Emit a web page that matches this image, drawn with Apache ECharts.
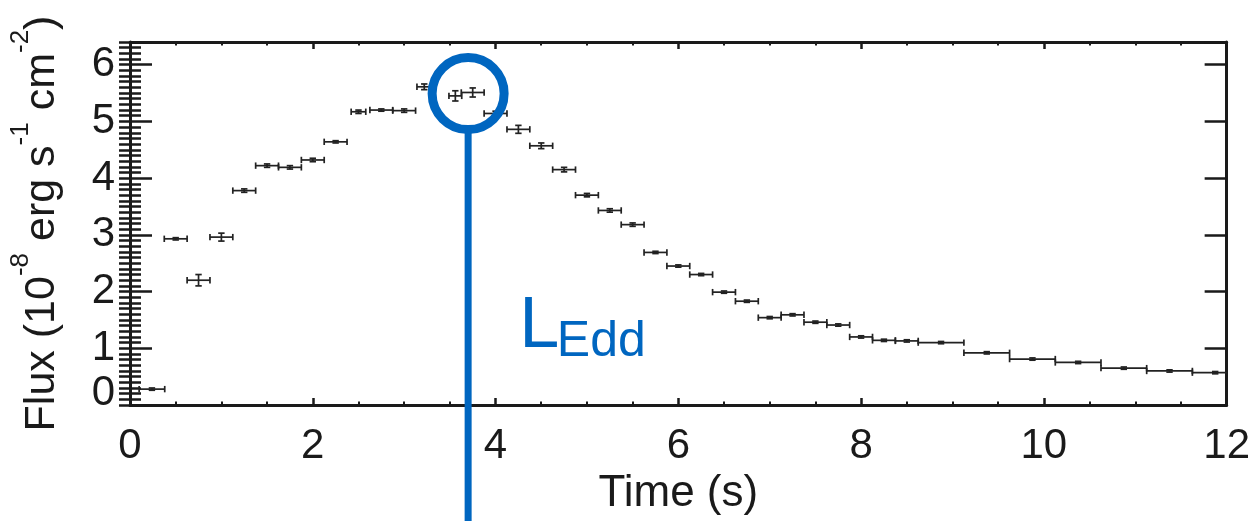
<!DOCTYPE html>
<html><head><meta charset="utf-8">
<script src="https://cdn.jsdelivr.net/npm/echarts@6/dist/echarts.min.js"></script>
<style>html,body{margin:0;padding:0;background:#fff}#c{width:1253px;height:521px}</style>
</head><body><div id="c"></div>
<script>
// Time bin centres (s), half-widths (s), flux (1e-8 erg/s/cm2), flux errors
const time    = [0.24,0.50,0.75,1.00,1.25,1.50,1.75,2.00,2.25,2.50,2.75,3.00,3.22,3.56,3.75,4.00,4.25,4.50,4.75,5.00,5.25,5.50,5.75,6.00,6.25,6.50,6.75,7.00,7.25,7.50,7.75,8.00,8.25,8.50,8.875,9.375,9.875,10.375,10.875,11.375,11.875];
const timeErr = [0.14,0.125,0.125,0.125,0.125,0.125,0.125,0.125,0.125,0.08,0.125,0.125,0.08,0.07,0.125,0.125,0.125,0.125,0.125,0.125,0.125,0.125,0.125,0.125,0.125,0.125,0.125,0.125,0.125,0.125,0.125,0.125,0.125,0.125,0.25,0.25,0.25,0.25,0.25,0.25,0.25];
const flux    = [0.28,2.93,2.20,2.96,3.78,4.22,4.19,4.32,4.64,5.17,5.20,5.19,5.61,5.45,5.51,5.14,4.86,4.57,4.15,3.70,3.43,3.18,2.69,2.45,2.30,1.99,1.83,1.54,1.59,1.46,1.41,1.20,1.14,1.13,1.10,0.92,0.81,0.75,0.65,0.60,0.57];
const fluxErr = [0.02,0.02,0.10,0.07,0.03,0.03,0.03,0.03,0.02,0.03,0.02,0.03,0.05,0.09,0.08,0.04,0.07,0.05,0.04,0.03,0.03,0.03,0.02,0.02,0.02,0.02,0.02,0.02,0.02,0.02,0.02,0.02,0.02,0.02,0.02,0.02,0.02,0.02,0.02,0.02,0.02];
const xTickLabels = [0,2,4,6,8,10,12];
const yTickLabels = [0,1,2,3,4,5,6];
// Annotation anchors in data units
const eddCircle = [3.70, 5.49];
const eddLabelL = [4.26, 1.37];
const eddLabelSub = [4.67, 1.11];

const FONT = '"Liberation Sans", Arial, Helvetica, sans-serif';
const INK = '#1a1a1a';
const BLUE = '#0066c0';

const chart = echarts.init(document.getElementById('c'), null, {renderer:'canvas'});

const lineAxis = {show:true, onZero:false, lineStyle:{color:INK, width:3}};
function xAx(pos, labels){
  return {
    type:'value', position:pos, min:0, max:12, interval:2,
    axisLine:lineAxis,
    axisTick:{show:true, inside:true, length:7, lineStyle:{color:INK, width:2.5}},
    minorTick:{show:true, splitNumber:4, length:3.5, lineStyle:{color:INK, width:2}},
    splitLine:{show:false}, minorSplitLine:{show:false},
    axisLabel: labels ? {show:true, fontSize:42, color:INK, fontFamily:FONT, margin:20,
      formatter: v => xTickLabels.includes(v) ? String(v) : ''} : {show:false},
    name: labels ? 'Time (s)' : '', nameLocation:'middle', nameGap:64,
    nameTextStyle:{fontSize:44, color:INK, fontFamily:FONT}
  };
}
function yAx(pos, interval, len, showLine, labels){
  const a = {
    type:'value', position:pos, min:0, max:6.4, interval:interval,
    axisLine: showLine ? lineAxis : {show:false},
    axisTick:{show:true, inside:true, length:len, lineStyle:{color:INK, width:2.5}},
    splitLine:{show:false},
    axisLabel:{show:false}
  };
  if (labels) {
    a.axisLabel = {show:true, fontSize:42, color:INK, fontFamily:FONT, margin:15,
      formatter: v => yTickLabels.includes(v) ? (v === 0 ? '{z|0}' : String(v)) : '',
      rich:{z:{fontSize:42, color:INK, fontFamily:FONT, padding:[0,0,24,0]}}};
    a.name = '{m|Flux (10}{s|-8}{m| erg s}{s|-1}{m| cm}{s|-2}{m|)}';
    a.nameLocation = 'middle';
    a.nameRotate = 90;
    a.nameGap = 66;
    a.nameTextStyle = {color:INK, fontFamily:FONT, rich:{
      m:{fontSize:43, color:INK, fontFamily:FONT, lineHeight:56, verticalAlign:'bottom'},
      s:{fontSize:26, color:INK, fontFamily:FONT, lineHeight:56, verticalAlign:'top'}
    }};
  }
  return a;
}

const errData = time.map((t,i) => [t, flux[i], timeErr[i], fluxErr[i]]);

chart.setOption({
  animation:false,
  backgroundColor:'#fff',
  grid:{left:125, right:26, top:42, bottom:116, containLabel:false},
  xAxis:[xAx('bottom', true), xAx('top', false)],
  yAxis:[yAx('left',1,22,true,true), yAx('left',0.1,11,false,false),
         yAx('right',1,22,true,false), yAx('right',0.1,11,false,false)],
  series:[
    {
      type:'custom', xAxisIndex:0, yAxisIndex:0, clip:true, silent:true,
      data:errData, encode:{x:0, y:1},
      renderItem:(params, api) => {
        const t = api.value(0), f = api.value(1), dt = api.value(2), df = api.value(3);
        const l = api.coord([t-dt, f]), r = api.coord([t+dt, f]);
        const up = api.coord([t, f+df]), dn = api.coord([t, f-df]);
        const cap = 3.2;
        const st = {stroke:'#222', lineWidth:1.7};
        const L = (x1,y1,x2,y2) => ({type:'line', shape:{x1,y1,x2,y2}, style:st});
        return {type:'group', children:[
          L(l[0],l[1],r[0],r[1]),
          L(l[0],l[1]-cap,l[0],l[1]+cap),
          L(r[0],r[1]-cap,r[0],r[1]+cap),
          L(up[0],up[1],dn[0],dn[1]),
          L(up[0]-cap,up[1],up[0]+cap,up[1]),
          L(dn[0]-cap,dn[1],dn[0]+cap,dn[1])
        ]};
      }
    },
    {
      type:'custom', xAxisIndex:0, yAxisIndex:0, clip:false, silent:true, z:10,
      data:[eddCircle], encode:{x:0, y:1},
      renderItem:(params, api) => {
        const c = api.coord([api.value(0), api.value(1)]);
        const pL = api.coord(eddLabelL), pS = api.coord(eddLabelSub);
        const R = 36;
        return {type:'group', children:[
          {type:'circle', shape:{cx:c[0], cy:c[1], r:R}, style:{fill:'none', stroke:BLUE, lineWidth:9}},
          {type:'line', shape:{x1:c[0], y1:c[1]+R, x2:c[0], y2:api.getHeight()+5}, style:{stroke:BLUE, lineWidth:7}},
          {type:'text', x:pL[0], y:pL[1], style:{text:'L', fill:BLUE, fontSize:72, fontFamily:FONT, align:'left', verticalAlign:'middle'}},
          {type:'text', x:pS[0], y:pS[1], style:{text:'Edd', fill:BLUE, fontSize:50, fontFamily:FONT, align:'left', verticalAlign:'middle'}}
        ]};
      }
    }
  ]
});
</script></body></html>
